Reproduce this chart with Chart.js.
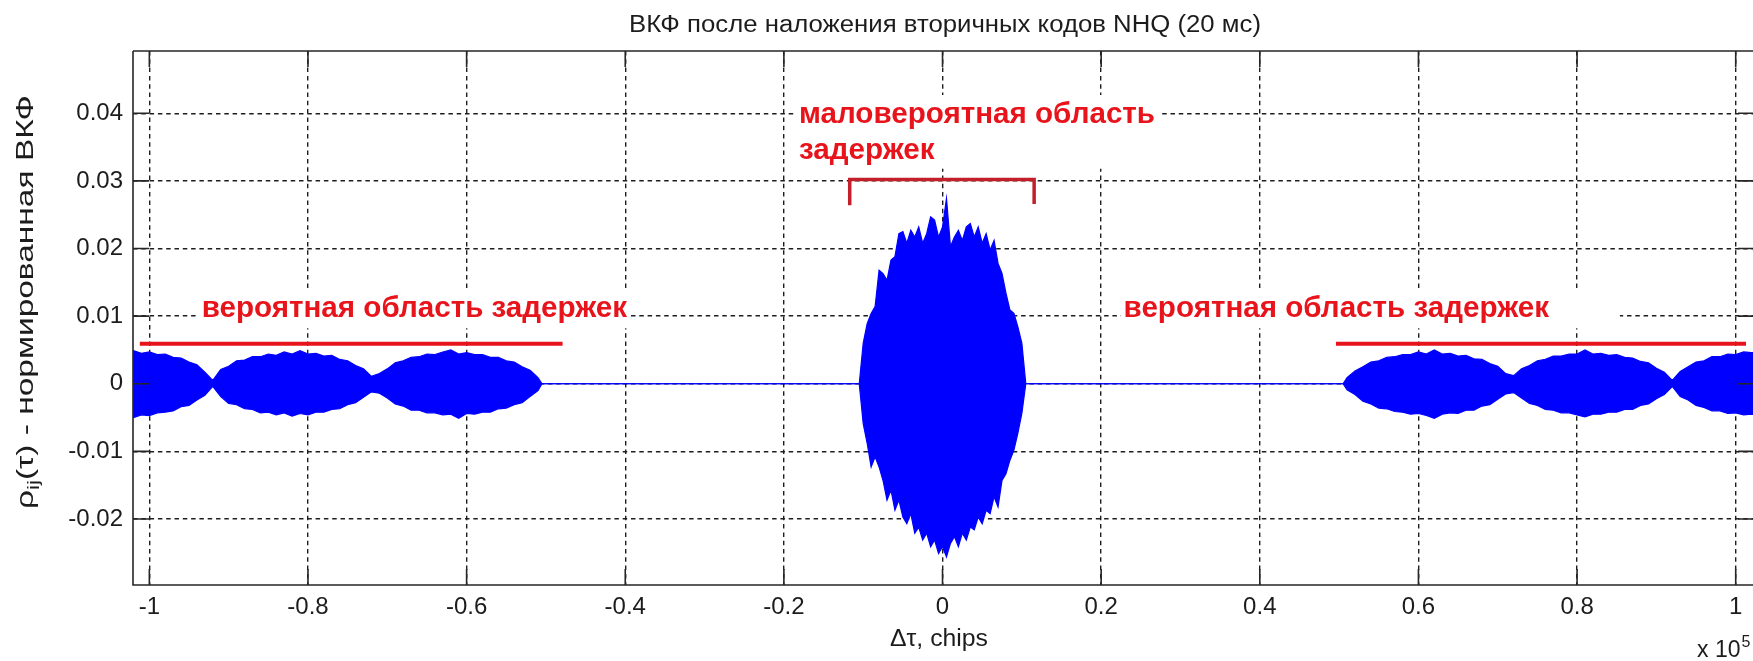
<!DOCTYPE html>
<html>
<head>
<meta charset="utf-8">
<script src="https://cdn.jsdelivr.net/npm/chart.js@4.4.1/dist/chart.umd.min.js"></script>
<style>
  html, body { margin: 0; padding: 0; background: #fff; }
  #wrap { width: 1753px; height: 661px; }
</style>
</head>
<body>
<div id="wrap"><canvas id="vkf" width="1753" height="661"></canvas></div>
<script>
// Δτ в единицах 10^5 chips, ВКФ — огибающая (верх / низ)

// левая группа всплесков (вероятная область)
const leftX = [-1.03, -1.02, -1.01, -1.00, -0.99, -0.98, -0.97, -0.96, -0.95, -0.94,
  -0.93, -0.92, -0.91, -0.90, -0.89, -0.88, -0.87, -0.86, -0.85, -0.84,
  -0.83, -0.82, -0.81, -0.80, -0.79, -0.78, -0.77, -0.76, -0.75, -0.74,
  -0.73, -0.72, -0.71, -0.70, -0.69, -0.68, -0.67, -0.66, -0.65, -0.64,
  -0.63, -0.62, -0.61, -0.60, -0.59, -0.58, -0.57, -0.56, -0.55, -0.54,
  -0.53, -0.52, -0.51, -0.505];
const leftUpper = [0.0046, 0.0049, 0.0045, 0.0047, 0.0043, 0.0044, 0.0039, 0.0038, 0.0032, 0.0028,
  0.0017, 0.0005, 0.0021, 0.0026, 0.0034, 0.0035, 0.0040, 0.0040, 0.0044, 0.0042,
  0.0047, 0.0044, 0.0049, 0.0044, 0.0045, 0.0041, 0.0042, 0.0036, 0.0034, 0.0027,
  0.0022, 0.0011, 0.0015, 0.0022, 0.0031, 0.0034, 0.0039, 0.0040, 0.0044, 0.0043,
  0.0047, 0.0050, 0.0044, 0.0046, 0.0043, 0.0043, 0.0039, 0.0039, 0.0034, 0.0032,
  0.0025, 0.0020, 0.0009, 0];
const leftLower = [-0.0047, -0.0050, -0.0046, -0.0047, -0.0043, -0.0042, -0.0040, -0.0034, -0.0032, -0.0024,
  -0.0017, -0.0004, -0.0019, -0.0029, -0.0031, -0.0037, -0.0038, -0.0043, -0.0042, -0.0046,
  -0.0043, -0.0048, -0.0044, -0.0046, -0.0042, -0.0042, -0.0038, -0.0037, -0.0031, -0.0028,
  -0.0020, -0.0012, -0.0014, -0.0021, -0.0030, -0.0033, -0.0039, -0.0039, -0.0043, -0.0043,
  -0.0046, -0.0045, -0.0051, -0.0044, -0.0045, -0.0042, -0.0042, -0.0037, -0.0036, -0.0031,
  -0.0028, -0.0019, -0.0010, 0];

// центральный всплеск (маловероятная область)
const centerX = [-0.105, -0.100, -0.095, -0.090, -0.085, -0.080, -0.075, -0.070, -0.065, -0.060,
  -0.055, -0.050, -0.045, -0.040, -0.035, -0.030, -0.025, -0.020, -0.015, -0.010,
  -0.005, 0, 0.005, 0.010, 0.015, 0.020, 0.025, 0.030, 0.035, 0.040,
  0.045, 0.050, 0.055, 0.060, 0.065, 0.070, 0.075, 0.080, 0.085, 0.090,
  0.095, 0.100, 0.105];
const centerUpper = [0, 0.0060, 0.0089, 0.0104, 0.0114, 0.0168, 0.0163, 0.0153, 0.0183, 0.0188,
  0.0222, 0.0225, 0.0208, 0.0227, 0.0217, 0.0232, 0.0208, 0.0222, 0.0247, 0.0242,
  0.0217, 0.0232, 0.0274, 0.0203, 0.0217, 0.0227, 0.0212, 0.0232, 0.0237, 0.0217,
  0.0232, 0.0208, 0.0222, 0.0198, 0.0212, 0.0178, 0.0163, 0.0134, 0.0109, 0.0104,
  0.0084, 0.0060, 0];
const centerLower = [0, -0.0059, -0.0088, -0.0123, -0.0108, -0.0123, -0.0143, -0.0172, -0.0157, -0.0187,
  -0.0172, -0.0197, -0.0207, -0.0192, -0.0221, -0.0212, -0.0231, -0.0221, -0.0241, -0.0231,
  -0.0251, -0.0241, -0.0256, -0.0236, -0.0226, -0.0241, -0.0221, -0.0231, -0.0212, -0.0216,
  -0.0197, -0.0207, -0.0187, -0.0192, -0.0167, -0.0182, -0.0143, -0.0133, -0.0113, -0.0098,
  -0.0073, -0.0044, 0];

// правая группа всплесков
const rightX = [0.505, 0.51, 0.52, 0.53, 0.54, 0.55, 0.56, 0.57, 0.58, 0.59, 0.60,
  0.61, 0.62, 0.63, 0.64, 0.65, 0.66, 0.67, 0.68, 0.69, 0.70,
  0.71, 0.72, 0.73, 0.74, 0.75, 0.76, 0.77, 0.78, 0.79, 0.80,
  0.81, 0.82, 0.83, 0.84, 0.85, 0.86, 0.87, 0.88, 0.89, 0.90,
  0.91, 0.92, 0.93, 0.94, 0.95, 0.96, 0.97, 0.98, 0.99, 1.00,
  1.01, 1.02, 1.03];
const rightUpper = [0, 0.0009, 0.0019, 0.0025, 0.0032, 0.0034, 0.0039, 0.0040, 0.0043, 0.0043, 0.0047,
  0.0044, 0.0050, 0.0044, 0.0045, 0.0041, 0.0042, 0.0037, 0.0036, 0.0030, 0.0026,
  0.0015, 0.0012, 0.0022, 0.0027, 0.0034, 0.0036, 0.0041, 0.0041, 0.0044, 0.0044,
  0.0050, 0.0044, 0.0045, 0.0042, 0.0043, 0.0039, 0.0038, 0.0033, 0.0031, 0.0023,
  0.0017, 0.0005, 0.0018, 0.0025, 0.0032, 0.0034, 0.0040, 0.0040, 0.0044, 0.0043,
  0.0047, 0.0046, 0.0047];
const rightLower = [0, -0.0009, -0.0016, -0.0026, -0.0030, -0.0036, -0.0037, -0.0041, -0.0042, -0.0045, -0.0044,
  -0.0047, -0.0051, -0.0045, -0.0043, -0.0044, -0.0039, -0.0039, -0.0033, -0.0031, -0.0023,
  -0.0015, -0.0013, -0.0021, -0.0029, -0.0032, -0.0038, -0.0039, -0.0043, -0.0043, -0.0046,
  -0.0049, -0.0045, -0.0045, -0.0042, -0.0042, -0.0038, -0.0038, -0.0032, -0.0030, -0.0022,
  -0.0016, -0.0004, -0.0019, -0.0024, -0.0032, -0.0035, -0.0040, -0.0040, -0.0044, -0.0043,
  -0.0046, -0.0045, -0.0047];

// красные отметки: линии областей и скобка
const barLeftX = [-1.012, -0.479];
const barRightX = [0.496, 1.013];
const barY = [0.0059, 0.0059];
const bracketX = [-0.117, -0.117, 0.1155, 0.1155];
const bracketY = [0.0264, 0.0302, 0.0302, 0.0266];

// подписи осей
const xTicks = [-1, -0.8, -0.6, -0.4, -0.2, 0, 0.2, 0.4, 0.6, 0.8, 1];
const yTicks = [-0.02, -0.01, 0, 0.01, 0.02, 0.03, 0.04];

const titleText = 'ВКФ после наложения вторичных кодов NHQ (20 мс)';
const xLabel = 'Δτ, chips';

// надписи на поле графика (координаты в единицах осей)
const notes = [
  { lines: ['вероятная область задержек'], x: -0.934, y: [0.0098], box: [-0.938, -0.394, 0.0140, 0.0082] },
  { lines: ['вероятная область задержек'], x: 0.2283, y: [0.0098], box: [0.225, 0.854, 0.0140, 0.0082] },
  { lines: ['маловероятная область', 'задержек'], x: -0.181, y: [0.0385, 0.0333], box: [-0.1852, 0.2742, 0.0427, 0.0318] }
];

const BLUE = '#0000ff';
const RED = '#e8141c';
const DARK_RED = '#c21f2b';
const INK = '#1c1c1c';
const FONT = '"Liberation Sans", Arial, sans-serif';

function toPoints(xs, ys) {
    return xs.map((x, i) => ({ x: x, y: ys[i] }));
}

// склеиваем три участка, между ними сигнал = 0
const sigX = leftX.concat(centerX, rightX);
const sigUpper = leftUpper.concat(centerUpper, rightUpper);
const sigLower = leftLower.concat(centerLower, rightLower);

// рамка осей и внутренние риски как в MATLAB
const axesBox = {
    id: 'axesBox',
    afterDatasetsDraw(chart) {
        const { ctx, chartArea: a, scales } = chart;
        const len = 16;
        ctx.save();
        ctx.strokeStyle = '#262626';
        ctx.lineWidth = 1.6;
        ctx.beginPath();
        ctx.moveTo(a.left, a.top);
        ctx.lineTo(a.right + 2, a.top);
        ctx.moveTo(a.left, a.top);
        ctx.lineTo(a.left, a.bottom);
        ctx.lineTo(a.right + 2, a.bottom);
        xTicks.forEach(v => {
            const px = scales.x.getPixelForValue(v);
            ctx.moveTo(px, a.bottom);
            ctx.lineTo(px, a.bottom - len);
            ctx.moveTo(px, a.top);
            ctx.lineTo(px, a.top + len);
        });
        yTicks.forEach(v => {
            const py = scales.y.getPixelForValue(v);
            ctx.moveTo(a.left, py);
            ctx.lineTo(a.left + len, py);
            ctx.moveTo(a.right + 1, py);
            ctx.lineTo(a.right + 1 - len, py);
        });
        ctx.stroke();
        ctx.restore();
    }
};

// текст, растянутый по ширине (шрифт MATLAB шире Arial)
function wideText(ctx, s, x, y, width) {
    const w = ctx.measureText(s).width;
    ctx.save();
    ctx.translate(x, y);
    ctx.scale(width / w, 1);
    ctx.textAlign = 'center';
    ctx.fillText(s, 0, 0);
    ctx.restore();
}

// заголовок, подписи осей и красные надписи
const labels = {
    id: 'labels',
    afterDraw(chart) {
        const { ctx, chartArea: a, scales } = chart;
        const cx = (a.left + a.right) / 2;
        ctx.save();
        ctx.fillStyle = INK;
        ctx.textBaseline = 'alphabetic';

        ctx.font = '23px ' + FONT;
        wideText(ctx, titleText, cx + 2, 32, 632);

        ctx.font = '23px ' + FONT;
        wideText(ctx, xLabel, cx - 4, 646, 98);

        // x 10^5
        ctx.textAlign = 'left';
        ctx.font = '23px ' + FONT;
        ctx.fillText('x 10', 1697, 657);
        const w10 = ctx.measureText('x 10').width;
        ctx.font = '16px ' + FONT;
        ctx.fillText('5', 1697 + w10 + 1, 647);

        // подпись оси Y с индексом
        ctx.translate(25, 302);
        ctx.rotate(-Math.PI / 2);
        const big = '24px ' + FONT, small = '16px ' + FONT;
        const parts = [['ρ', big, 0], ['ij', small, 6], ['(τ) - нормированная ВКФ', big, 0]];
        let total = 0;
        parts.forEach(p => { ctx.font = p[1]; total += ctx.measureText(p[0]).width; });
        ctx.scale(414 / total, 1);
        let x0 = -total / 2;
        parts.forEach(p => {
            ctx.font = p[1];
            ctx.fillText(p[0], x0, p[2] + 8);
            x0 += ctx.measureText(p[0]).width;
        });
        ctx.setTransform(1, 0, 0, 1, 0, 0);

        // надписи на белой подложке
        notes.forEach(n => {
            const bx0 = scales.x.getPixelForValue(n.box[0]);
            const bx1 = scales.x.getPixelForValue(n.box[1]);
            const by0 = scales.y.getPixelForValue(n.box[2]);
            const by1 = scales.y.getPixelForValue(n.box[3]);
            ctx.fillStyle = '#fff';
            ctx.fillRect(bx0, by0, bx1 - bx0, by1 - by0);
            ctx.fillStyle = RED;
            ctx.font = 'bold 29.6px ' + FONT;
            ctx.textAlign = 'left';
            n.lines.forEach((s, i) => {
                ctx.fillText(s, scales.x.getPixelForValue(n.x), scales.y.getPixelForValue(n.y[i]));
            });
        });
        ctx.restore();
    }
};

const ctx = document.getElementById('vkf').getContext('2d');
new Chart(ctx, {
    type: 'line',
    data: {
        datasets: [
            {
                label: 'область слева',
                data: toPoints(barLeftX, barY),
                borderColor: RED, borderWidth: 4, order: 0
            },
            {
                label: 'область справа',
                data: toPoints(barRightX, barY),
                borderColor: RED, borderWidth: 4, order: 0
            },
            {
                label: 'скобка',
                data: toPoints(bracketX, bracketY),
                borderColor: DARK_RED, borderWidth: 3.5, order: 0
            },
            {
                label: 'ВКФ верх',
                data: toPoints(sigX, sigUpper),
                borderColor: BLUE, borderWidth: 1.2, fill: false, order: 1
            },
            {
                label: 'ВКФ низ',
                data: toPoints(sigX, sigLower),
                borderColor: BLUE, borderWidth: 1.2,
                fill: '-1', backgroundColor: BLUE, order: 1
            }
        ]
    },
    options: {
        responsive: false,
        animation: false,
        events: [],
        layout: { padding: { top: 51, left: 0, right: 0, bottom: 0 } },
        elements: { point: { radius: 0 }, line: { tension: 0 } },
        plugins: {
            legend: { display: false },
            tooltip: { enabled: false }
        },
        scales: {
            x: {
                type: 'linear',
                min: -1.0206,
                max: 1.0218,
                afterBuildTicks: (axis) => { axis.ticks = xTicks.map(v => ({ value: v })); },
                afterFit: (axis) => { axis.height = 76; },
                grid: { color: '#1e1e1e', lineWidth: 1.4, drawTicks: false },
                border: { display: false, dash: [4.5, 3.8] },
                ticks: {
                    color: INK, padding: 8, maxRotation: 0, autoSkip: false,
                    font: { family: FONT, size: 24 },
                    callback: (v) => String(Number(v.toFixed(1)))
                }
            },
            y: {
                type: 'linear',
                min: -0.02976,
                max: 0.04921,
                afterBuildTicks: (axis) => { axis.ticks = yTicks.map(v => ({ value: v })); },
                afterFit: (axis) => { axis.width = 133; },
                grid: { color: '#1e1e1e', lineWidth: 1.4, drawTicks: false },
                border: { display: false, dash: [4.5, 3.8] },
                ticks: {
                    color: INK, padding: 10, autoSkip: false,
                    font: { family: FONT, size: 24 },
                    callback: (v) => String(Number(v.toFixed(2)))
                }
            }
        }
    },
    plugins: [axesBox, labels]
});
</script>
</body>
</html>
